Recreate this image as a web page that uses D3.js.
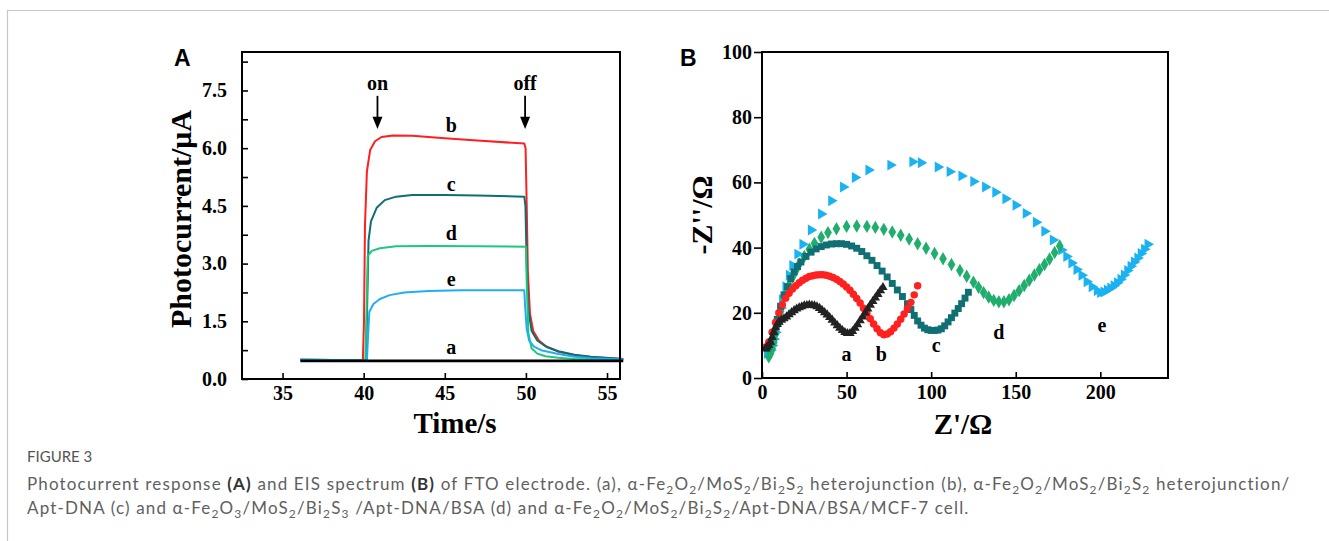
<!DOCTYPE html>
<html>
<head>
<meta charset="utf-8">
<script src="https://cdn.jsdelivr.net/npm/d3@7"></script>
<style>
  body { margin: 0; background: #fff; }
  svg { display: block; }
</style>
</head>
<body>
<svg id="fig" width="1329" height="541"></svg>
<script>
// ---- panel A: photocurrent vs time ----
const timeTicks = [35, 40, 45, 50, 55];
const currentTicks = [0, 1.5, 3.0, 4.5, 6.0, 7.5];

const curveA = [[36.1, 0.47], [56, 0.47]];
const curveB = [[36.1, 0.5], [39.95, 0.49], [40.02, 1.5], [40.08, 4.0], [40.2, 5.4], [40.4, 5.95], [40.7, 6.18],
  [41.1, 6.29], [41.8, 6.33], [43, 6.32], [45, 6.26], [47, 6.2], [49.9, 6.12], [49.98, 6.0], [50.05, 4.5],
  [50.12, 2.8], [50.25, 1.7], [50.45, 1.25], [50.8, 1.0], [51.3, 0.83], [52, 0.71], [53, 0.62], [54, 0.57], [56, 0.52]];
const curveC = [[36.1, 0.5], [40.15, 0.49], [40.22, 2.0], [40.3, 3.6], [40.45, 4.1], [40.8, 4.45], [41.3, 4.65],
  [42, 4.74], [43, 4.78], [45, 4.78], [47, 4.77], [49.9, 4.74], [49.97, 4.5], [50.05, 3.0], [50.15, 1.8],
  [50.35, 1.25], [50.7, 1.0], [51.2, 0.85], [52, 0.72], [53, 0.63], [54, 0.58], [56, 0.52]];
const curveD = [[36.1, 0.5], [40.1, 0.49], [40.18, 1.8], [40.25, 3.2], [40.5, 3.33], [41, 3.4], [42, 3.45],
  [44, 3.46], [47, 3.45], [50, 3.44], [50.05, 2.5], [50.15, 1.2], [50.35, 0.8], [50.7, 0.66], [51.2, 0.59],
  [52, 0.55], [53, 0.52], [56, 0.5]];
const curveE = [[36.1, 0.5], [40.2, 0.49], [40.28, 1.2], [40.35, 1.75], [40.6, 1.95], [41, 2.08], [41.6, 2.18],
  [42.5, 2.25], [44, 2.29], [46, 2.31], [48, 2.31], [49.9, 2.31], [49.95, 1.9], [50.05, 1.3], [50.2, 1.0],
  [50.5, 0.84], [51, 0.74], [52, 0.65], [53, 0.58], [54, 0.54], [56, 0.51]];

const photoSeries = [
  { name: "a", color: "#000000", pts: curveA, width: 2.6, lx: 45.4, ly: 0.65 },
  { name: "b", color: "#ff1f1f", pts: curveB, width: 2, lx: 45.4, ly: 6.42 },
  { name: "c", color: "#0d6e74", pts: curveC, width: 2, lx: 45.4, ly: 4.89 },
  { name: "d", color: "#1fc77c", pts: curveD, width: 2, lx: 45.4, ly: 3.61 },
  { name: "e", color: "#1faef0", pts: curveE, width: 2, lx: 45.4, ly: 2.42 }
];

// ---- panel B: Nyquist plot ----
const zReTicks = [0, 50, 100, 150, 200];
const zImTicks = [0, 20, 40, 60, 80, 100];

const nyqA = [[2, 9], [3, 9.5], [4, 10], [5, 11], [6, 12.5], [7, 14], [8, 15.5], [9, 16.5], [10, 17.2], [11.5, 17.8],
  [13, 18.2], [14.5, 18.8], [16, 19.5], [17.5, 20.1], [19, 20.7], [20.5, 21.2], [22, 21.6], [23.5, 21.9], [25, 22.2],
  [26.5, 22.3], [28, 22.4], [29.5, 22.3], [31, 22.2], [32.5, 21.9], [34, 21.4], [35.5, 20.8], [37, 20.1], [38.5, 19.4],
  [40, 18.6], [41.5, 17.8], [43, 16.9], [44.5, 16.1], [46, 15.3], [47.5, 14.6], [49, 14], [50.5, 13.7], [52, 13.7],
  [53.5, 14.3], [55, 15.3], [56.5, 16.4], [58, 17.6], [59.5, 18.8], [61, 20], [62.5, 21.2], [64, 22.4], [65.5, 23.5],
  [67, 24.6], [68.5, 25.7], [70, 26.8], [71.5, 27.8]];
const nyqB = [[2, 9.5], [4, 11], [6, 14], [8, 17], [10, 20], [12, 22.5], [14, 24.5], [16, 26], [18, 27.3], [20, 28.3],
  [22, 29.2], [24, 30], [26, 30.6], [28, 31.1], [30, 31.4], [32, 31.6], [34, 31.7], [36, 31.7], [38, 31.5], [40, 31.2],
  [42, 30.8], [44, 30.3], [46, 29.6], [48, 28.8], [50, 27.9], [52, 26.9], [54, 25.7], [56, 24.4], [58, 23], [60, 21.4],
  [62, 19.8], [64, 18.2], [66, 16.6], [68, 15.1], [70, 13.9], [72, 13.3], [74, 13.5], [76, 14.2], [78, 15.3],
  [80, 16.6], [82, 18], [84, 19.6], [86, 21.3], [88, 23.2], [90, 25.5], [92, 28.3]];
const nyqC = [[3, 9], [5, 11], [7, 14], [9, 18], [11, 22], [13, 25.5], [15, 28], [17, 30.5], [19, 32.5], [21, 34.2],
  [23, 35.6], [26, 37.3], [29, 38.6], [32, 39.6], [35, 40.3], [38, 40.8], [41, 41.1], [44, 41.2], [47, 41.2], [50, 41],
  [53, 40.5], [56, 39.8], [59, 38.8], [62, 37.5], [65, 36.1], [68, 34.5], [71, 32.8], [74, 31], [77, 29], [80, 27],
  [83, 25], [86, 22.8], [88, 21], [90, 19.2], [92, 17.5], [94, 16.2], [96, 15.3], [98, 14.8], [100, 14.6], [102, 14.6],
  [104, 14.7], [106, 15.1], [108, 16], [110, 17.2], [112, 18.5], [114, 19.9], [116, 21.3], [118, 22.8], [120, 24.5],
  [122, 26.3]];
const nyqD = [[4, 6.5], [5, 7.5], [6, 9], [7, 11], [8, 13.5], [9, 16], [10, 18.5], [11, 20.5], [12, 22.5], [14, 25.5],
  [16, 28.5], [18, 31], [20, 33], [22, 35], [25, 37.3], [28, 39.5], [31, 41.3], [35, 43.2], [39, 44.6], [44, 45.8],
  [50, 46.5], [56, 46.6], [62, 46.5], [67, 46.2], [72, 45.6], [77, 44.8], [82, 43.8], [87, 42.6], [92, 41.2],
  [97, 39.8], [102, 38.2], [107, 36.6], [112, 34.8], [117, 33], [121, 31.2], [125, 29.4], [128, 27.8], [131, 26.2],
  [134, 24.8], [137, 23.8], [140, 23.4], [143, 23.4], [146, 24], [149, 25.3], [152, 26.8], [155, 28.4], [158, 30],
  [161, 31.6], [164, 33.2], [167, 34.8], [170, 36.5], [173, 38.5], [176, 40.5]];
const nyqE = [[3, 7.5], [4, 8], [5, 8.5], [6, 10], [7, 12], [8, 14], [9, 16.5], [10, 19], [11, 21.5], [12, 24],
  [14, 28], [16, 31.5], [18, 34.5], [21, 38], [24, 41], [29, 45.4], [35, 50.3], [41, 54.4], [48, 58.6], [55, 61.5],
  [63, 63.8], [76, 65.3], [89, 66.3], [94, 66], [104, 64.7], [111, 63.3], [118, 62], [125, 60.3], [132, 58.6],
  [138, 57], [144, 55], [150, 53], [156, 50.5], [162, 47.8], [167, 45], [172, 42.3], [177, 39.3], [180, 37.3],
  [183, 35.3], [186, 33.3], [189, 31.5], [192, 29.5], [195, 28], [198, 26.8], [200, 26.2], [202, 26.4], [204, 27],
  [206, 27.6], [208, 28.3], [210, 29.2], [212, 30.3], [214, 31.6], [216, 33], [218, 34.3], [220, 35.6], [222, 36.8],
  [224, 38.2], [226, 39.5], [228, 41]];

const nyqSeries = [
  { name: "a", color: "#222222", pts: nyqA, sym: d3.symbolTriangle, size: 38, rot: 0, lx: 50, ly: 5.2 },
  { name: "b", color: "#ff2020", pts: nyqB, sym: d3.symbolCircle, size: 44, rot: 0, lx: 70.5, ly: 5.2 },
  { name: "c", color: "#0f6f72", pts: nyqC, sym: d3.symbolSquare, size: 48, rot: 0, lx: 103, ly: 8 },
  { name: "d", color: "#1fae6e", pts: nyqD, sym: d3.symbolDiamond, size: 52, rot: 0, lx: 140, ly: 12 },
  { name: "e", color: "#1ab2f0", pts: nyqE, sym: d3.symbolTriangle, size: 52, rot: 90, lx: 201, ly: 14.1 }
];

const svg = d3.select("#fig");
const serif = "'Liberation Serif', 'Times New Roman', serif";
const sans = "'Liberation Sans', Arial, sans-serif";

// outer frame lines of the figure page
svg.append("line").attr("x1", 7).attr("x2", 1329).attr("y1", 10.5).attr("y2", 10.5)
  .attr("stroke", "#c6c6c6").attr("stroke-width", 1.2);
svg.append("line").attr("x1", 7.5).attr("x2", 7.5).attr("y1", 10).attr("y2", 541)
  .attr("stroke", "#c6c6c6").attr("stroke-width", 1.2);

function styleAxis(a) {
  a.select(".domain").remove();
  a.selectAll("line").attr("stroke", "#000").attr("stroke-width", 1.6);
  a.selectAll("text").attr("font-family", serif).attr("font-weight", "bold").attr("font-size", 20).attr("fill", "#000");
}

// ===== Panel A =====
const xA = d3.scaleLinear().domain([32.5, 55.8]).range([242, 620]);
const yA = d3.scaleLinear().domain([0, 8.5]).range([379, 52]);

const gA = svg.append("g");
gA.append("text").attr("x", 174).attr("y", 66).text("A")
  .attr("font-family", sans).attr("font-weight", "bold").attr("font-size", 23);

const lineA = d3.line().x(d => xA(d[0])).y(d => yA(d[1]));
// draw coloured curves first, black baseline on top
photoSeries.slice(1).concat(photoSeries.slice(0, 1)).forEach(s => {
  gA.append("path").attr("d", lineA(s.pts)).attr("fill", "none")
    .attr("stroke", s.color).attr("stroke-width", s.width).attr("stroke-linejoin", "round");
});
photoSeries.forEach(s => {
  gA.append("text").attr("x", xA(s.lx)).attr("y", yA(s.ly)).text(s.name)
    .attr("text-anchor", "middle").attr("font-family", serif).attr("font-weight", "bold").attr("font-size", 20);
});

// axes A
const axA = gA.append("g").attr("transform", `translate(0,${yA(0)})`)
  .call(d3.axisBottom(xA).tickValues(timeTicks).tickSizeInner(-6).tickSizeOuter(0).tickPadding(7));
const minorY = d3.range(0, 8.3, 0.75);
const ayA = gA.append("g").attr("transform", `translate(${xA.range()[0]},0)`)
  .call(d3.axisLeft(yA).tickValues(minorY).tickSizeInner(-6).tickSizeOuter(0).tickPadding(15)
    .tickFormat(d => currentTicks.some(t => Math.abs(t - d) < 1e-6) ? d3.format(".1f")(d) : ""));
styleAxis(axA);
styleAxis(ayA);
gA.append("rect").attr("x", 242).attr("y", 52).attr("width", 620 - 242).attr("height", 379 - 52)
  .attr("fill", "none").attr("stroke", "#000").attr("stroke-width", 2);

gA.append("text").attr("x", 455).attr("y", 433).text("Time/s").attr("text-anchor", "middle")
  .attr("font-family", serif).attr("font-weight", "bold").attr("font-size", 29);
gA.append("text").attr("transform", "translate(191,219) rotate(-90)").text("Photocurrent/μA")
  .attr("text-anchor", "middle").attr("font-family", serif).attr("font-weight", "bold").attr("font-size", 30);

// on / off arrows
[["on", 40.85], ["off", 49.95]].forEach(([lab, t]) => {
  const x = xA(t);
  gA.append("text").attr("x", x).attr("y", yA(7.5)).text(lab).attr("text-anchor", "middle")
    .attr("font-family", serif).attr("font-weight", "bold").attr("font-size", 20);
  gA.append("line").attr("x1", x).attr("x2", x).attr("y1", yA(7.36)).attr("y2", yA(6.75))
    .attr("stroke", "#000").attr("stroke-width", 1.8);
  gA.append("path").attr("d", `M${x - 5},${yA(6.82)} L${x + 5},${yA(6.82)} L${x},${yA(6.5)} Z`).attr("fill", "#000");
});

// ===== Panel B =====
const xB = d3.scaleLinear().domain([0, 240]).range([762, 1168]);
const yB = d3.scaleLinear().domain([0, 100]).range([378, 52]);
const gB = svg.append("g");
gB.append("text").attr("x", 680).attr("y", 66).text("B")
  .attr("font-family", sans).attr("font-weight", "bold").attr("font-size", 23);

nyqSeries.slice().reverse().forEach(s => {
  const sym = d3.symbol().type(s.sym).size(s.size);
  gB.append("g").selectAll("path").data(s.pts).join("path")
    .attr("transform", d => `translate(${xB(d[0])},${yB(d[1])}) rotate(${s.rot})`)
    .attr("d", sym).attr("fill", s.color);
});
nyqSeries.forEach(s => {
  gB.append("text").attr("x", xB(s.lx)).attr("y", yB(s.ly)).text(s.name)
    .attr("text-anchor", "middle").attr("font-family", serif).attr("font-weight", "bold").attr("font-size", 20);
});

const axB = gB.append("g").attr("transform", `translate(0,${yB(0)})`)
  .call(d3.axisBottom(xB).tickValues(zReTicks).tickSizeInner(-6).tickSizeOuter(0).tickPadding(7));
const ayB = gB.append("g").attr("transform", `translate(${xB(0)},0)`)
  .call(d3.axisLeft(yB).tickValues(zImTicks).tickSizeInner(8).tickSizeOuter(0).tickPadding(2));
styleAxis(axB);
styleAxis(ayB);
gB.append("rect").attr("x", 762).attr("y", 52).attr("width", 1168 - 762).attr("height", 378 - 52)
  .attr("fill", "none").attr("stroke", "#000").attr("stroke-width", 2);

gB.append("text").attr("x", 963).attr("y", 434).text("Z'/Ω").attr("text-anchor", "middle")
  .attr("font-family", serif).attr("font-weight", "bold").attr("font-size", 29);
gB.append("text").attr("transform", "translate(712,215) rotate(-90)").text("-Z''/Ω")
  .attr("text-anchor", "middle").attr("font-family", serif).attr("font-weight", "bold").attr("font-size", 30);

// ===== caption =====
const capFont = "Lato, 'Open Sans', sans-serif";
const capColor = "#5f5f5f";
svg.append("text").attr("x", 27).attr("y", 462).text("FIGURE 3")
  .attr("font-family", capFont).attr("font-size", 15).attr("fill", "#555");

// caption lines as [text, style] runs; style: n normal, b bold, s subscript
const capLine1 = [["Photocurrent response ", "n"], ["(A)", "b"], [" and EIS spectrum ", "n"], ["(B)", "b"],
  [" of FTO electrode. (a), α-Fe", "n"], ["2", "s"], ["O", "n"], ["2", "s"], ["/MoS", "n"], ["2", "s"], ["/Bi", "n"],
  ["2", "s"], ["S", "n"], ["2", "s"], [" heterojunction (b), α-Fe", "n"], ["2", "s"], ["O", "n"], ["2", "s"],
  ["/MoS", "n"], ["2", "s"], ["/Bi", "n"], ["2", "s"], ["S", "n"], ["2", "s"], [" heterojunction/", "n"]];
const capLine2 = [["Apt-DNA (c) and α-Fe", "n"], ["2", "s"], ["O", "n"], ["3", "s"], ["/MoS", "n"], ["2", "s"],
  ["/Bi", "n"], ["2", "s"], ["S", "n"], ["3", "s"], [" /Apt-DNA/BSA (d) and α-Fe", "n"], ["2", "s"], ["O", "n"],
  ["2", "s"], ["/MoS", "n"], ["2", "s"], ["/Bi", "n"], ["2", "s"], ["S", "n"], ["2", "s"],
  ["/Apt-DNA/BSA/MCF-7 cell.", "n"]];

const capTexts = [[capLine1, 490], [capLine2, 514]].map(([runs, y]) => {
  const t = svg.append("text").attr("x", 27).attr("y", y)
    .attr("font-family", capFont).attr("font-size", 17).attr("fill", capColor);
  let prevSub = false;
  runs.forEach(([str, st]) => {
    const sp = t.append("tspan").text(str);
    if (st === "b") sp.attr("font-weight", "bold").attr("fill", "#333");
    if (st === "s") { sp.attr("font-size", 12); if (!prevSub) sp.attr("dy", 4); }
    else if (prevSub) sp.attr("dy", -4);
    prevSub = st === "s";
  });
  return [t, runs.map(r => r[0]).join("").length];
});
// the original caption face is wider: spread letters so line 1 ends near x=1291
const [t1, n1] = capTexts[0];
const spacing = Math.max(0, (1264 - t1.node().getComputedTextLength()) / n1);
capTexts.forEach(([t]) => t.attr("letter-spacing", spacing.toFixed(2)));
</script>
</body>
</html>
